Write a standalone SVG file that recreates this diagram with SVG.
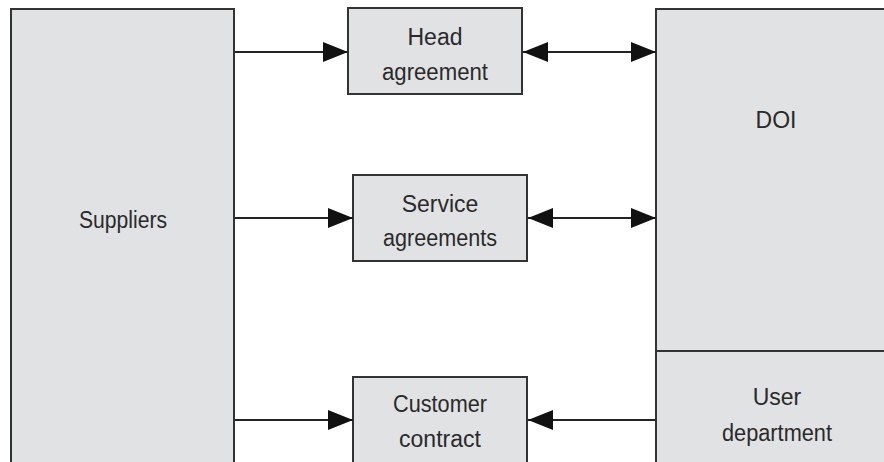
<svg xmlns="http://www.w3.org/2000/svg" width="884" height="462" viewBox="0 0 884 462">
<defs>
<style>
.box{fill:#e1e2e4;stroke:#333;stroke-width:2}
.t{font-family:"Liberation Sans",Arial,sans-serif;font-size:23px;fill:#2a2a2a;text-anchor:middle}
.c{stroke:#222;stroke-width:2;fill:none}
</style>
<marker id="ah" viewBox="0 0 25 20" refX="25" refY="10" markerWidth="25" markerHeight="20" markerUnits="userSpaceOnUse" orient="auto-start-reverse">
<path d="M0,0 L25,10 L0,20 Z" fill="#111"/>
</marker>
</defs>
<rect width="884" height="462" fill="#fff"/>
<g id="suppliers">
<rect class="box" x="11" y="9" width="223" height="470"/>
<text class="t" x="123" y="228" textLength="88" lengthAdjust="spacingAndGlyphs">Suppliers</text>
</g>
<g id="doi">
<rect class="box" x="656" y="9" width="240" height="342"/>
<text class="t" x="776" y="128">DOI</text>
</g>
<g id="user-department">
<rect class="box" x="656" y="351" width="240" height="130"/>
<text class="t" x="777" y="405">User</text>
<text class="t" x="777" y="441" textLength="110" lengthAdjust="spacingAndGlyphs">department</text>
</g>
<g id="head-agreement">
<rect class="box" x="348" y="8" width="174" height="86"/>
<text class="t" x="435" y="45">Head</text>
<text class="t" x="435" y="80" textLength="106" lengthAdjust="spacingAndGlyphs">agreement</text>
</g>
<g id="service-agreements">
<rect class="box" x="353" y="175" width="174" height="86"/>
<text class="t" x="440" y="212">Service</text>
<text class="t" x="440" y="246" textLength="114" lengthAdjust="spacingAndGlyphs">agreements</text>
</g>
<g id="customer-contract">
<rect class="box" x="353" y="377" width="174" height="100"/>
<text class="t" x="440" y="412" textLength="94" lengthAdjust="spacingAndGlyphs">Customer</text>
<text class="t" x="440" y="447">contract</text>
</g>
<g id="connectors">
<line class="c" x1="235" y1="52" x2="348" y2="52" marker-end="url(#ah)"/>
<line class="c" x1="523" y1="52" x2="656" y2="52" marker-start="url(#ah)" marker-end="url(#ah)"/>
<line class="c" x1="235" y1="218" x2="353" y2="218" marker-end="url(#ah)"/>
<line class="c" x1="528" y1="218" x2="656" y2="218" marker-start="url(#ah)" marker-end="url(#ah)"/>
<line class="c" x1="235" y1="420" x2="353" y2="420" marker-end="url(#ah)"/>
<line class="c" x1="655" y1="420" x2="528" y2="420" marker-end="url(#ah)"/>
</g>
</svg>
